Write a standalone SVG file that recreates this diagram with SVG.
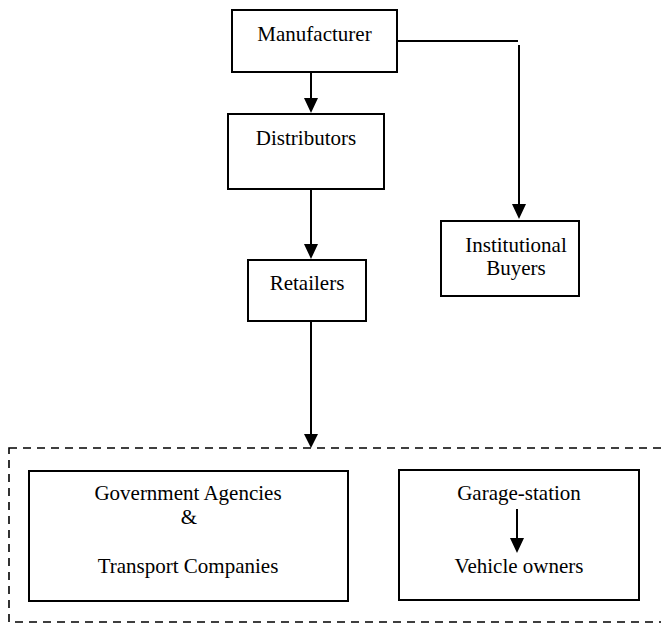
<svg xmlns="http://www.w3.org/2000/svg" width="661" height="624" viewBox="0 0 661 624">
<style>
.box{fill:#fff;stroke:#000;stroke-width:2}
.t{font-family:"Liberation Serif","Times New Roman",serif;font-size:21px;fill:#000;text-anchor:middle}
.ln{fill:none;stroke:#000;stroke-width:2}
.ah{fill:#000;stroke:none}
.dash{fill:none;stroke:#000;stroke-width:1.6;stroke-dasharray:8,6}
</style>
<rect width="661" height="624" fill="#fff"/>
<g id="group-end-users">
<rect class="dash" x="9" y="448" width="662" height="174"/>
</g>
<g id="manufacturer">
<rect class="box" x="232" y="10" width="165" height="62"/>
<text class="t" x="314.5" y="41">Manufacturer</text>
</g>
<g id="distributors">
<rect class="box" x="228" y="114" width="156" height="75"/>
<text class="t" x="306" y="145">Distributors</text>
</g>
<g id="retailers">
<rect class="box" x="248" y="260" width="118" height="61"/>
<text class="t" x="307" y="290">Retailers</text>
</g>
<g id="institutional-buyers">
<rect class="box" x="441" y="221" width="138" height="75"/>
<text class="t" x="516" y="252">Institutional</text>
<text class="t" x="516" y="275">Buyers</text>
</g>
<g id="government-transport">
<rect class="box" x="29" y="471" width="319" height="130"/>
<text class="t" x="188" y="500">Government Agencies</text>
<text class="t" x="189" y="524">&amp;</text>
<text class="t" x="188" y="573">Transport Companies</text>
</g>
<g id="garage-vehicle">
<rect class="box" x="399" y="470" width="240" height="130"/>
<text class="t" x="519" y="500">Garage-station</text>
<text class="t" x="519" y="573">Vehicle owners</text>
</g>
<g id="connectors">
<line class="ln" x1="311" y1="72" x2="311" y2="99"/>
<path class="ah" d="M304,98 L318,98 L311,113 Z"/>
<line class="ln" x1="311" y1="189" x2="311" y2="245"/>
<path class="ah" d="M304,244 L318,244 L311,259 Z"/>
<line class="ln" x1="311" y1="321" x2="311" y2="435"/>
<path class="ah" d="M304,434 L318,434 L311,448 Z"/>
<path class="ln" d="M397,41 H518 M519,45 V205"/>
<path class="ah" d="M512,204 L526,204 L519,219 Z"/>
<line class="ln" x1="517" y1="509" x2="517" y2="539"/>
<path class="ah" d="M510,538 L524,538 L517,553 Z"/>
</g>
</svg>
